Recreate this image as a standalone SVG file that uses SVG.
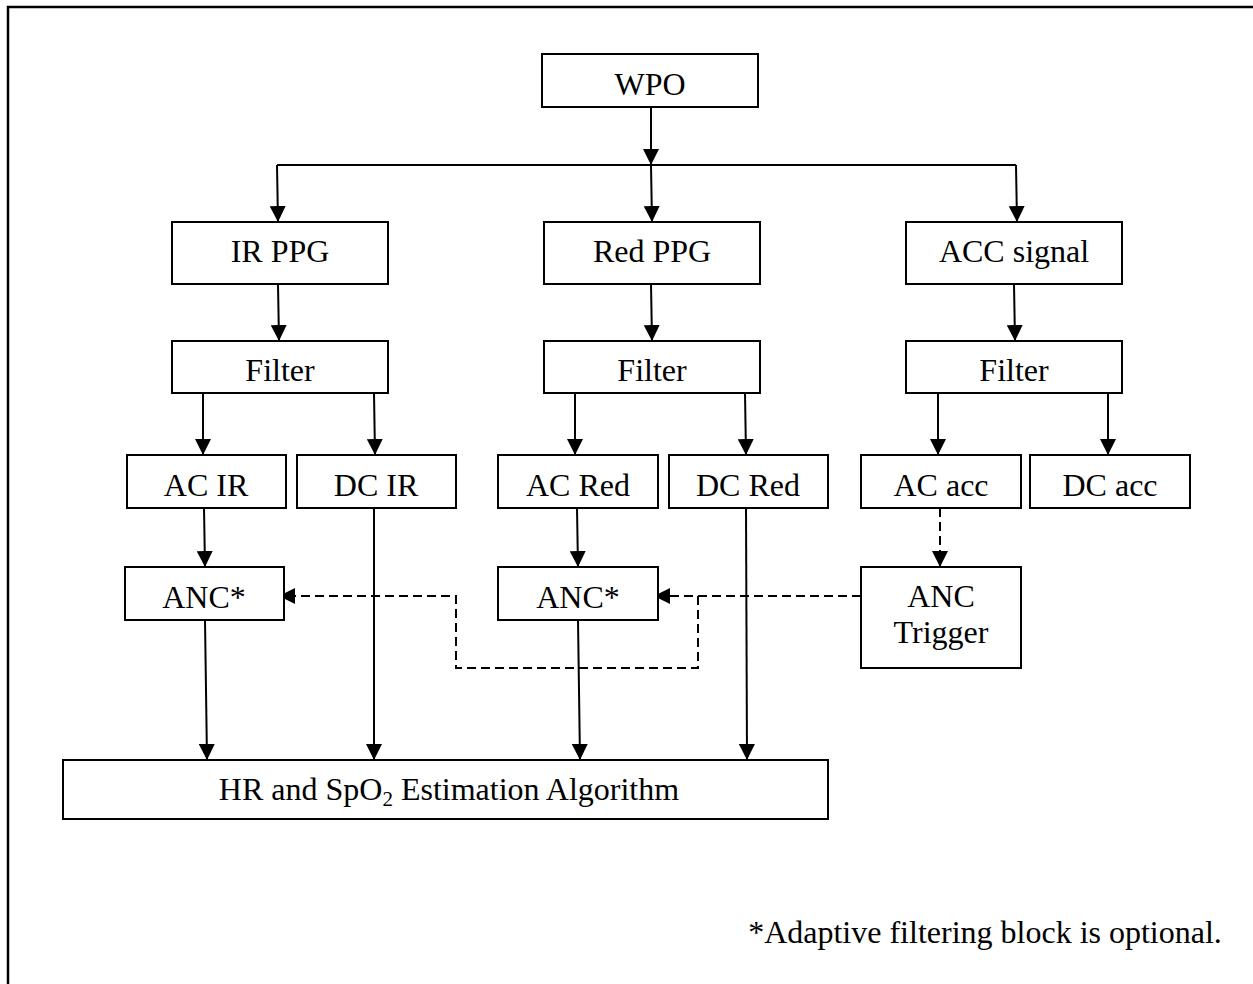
<svg xmlns="http://www.w3.org/2000/svg" width="1253" height="984" viewBox="0 0 1253 984">
  <defs>
    <marker id="arrow" markerUnits="userSpaceOnUse" markerWidth="16" markerHeight="16" refX="16" refY="8" orient="auto">
      <path d="M0,0 L16,8 L0,16 z" fill="#000"/>
    </marker>
    <style>
      .box { fill: #fff; stroke: #000; stroke-width: 2; }
      .lbl { font-family: "Liberation Serif", "Times New Roman", serif; font-size: 32px; fill: #000; text-anchor: middle; }
      .wire { fill: none; stroke: #000; stroke-width: 2; }
      .dash { fill: none; stroke: #000; stroke-width: 2; stroke-dasharray: 9 5; }
    </style>
  </defs>

  <rect width="1253" height="984" fill="#fff"/>
  <!-- page frame -->
  <path d="M8,984 V7 H1253" fill="none" stroke="#000" stroke-width="2.5"/>

  <g id="connectors">
    <!-- WPO fan-out -->
    <line class="wire" x1="651" y1="107" x2="651" y2="165" marker-end="url(#arrow)"/>
    <polyline class="wire" points="277,165 1016,165"/>
    <polyline class="wire" points="277,165 278,222" marker-end="url(#arrow)"/>
    <line class="wire" x1="651" y1="165" x2="652" y2="222" marker-end="url(#arrow)"/>
    <polyline class="wire" points="1016,165 1017,222" marker-end="url(#arrow)"/>

    <!-- source to filter -->
    <line class="wire" x1="278" y1="284" x2="279" y2="341" marker-end="url(#arrow)"/>
    <line class="wire" x1="651" y1="284" x2="652" y2="341" marker-end="url(#arrow)"/>
    <line class="wire" x1="1014" y1="284" x2="1015" y2="341" marker-end="url(#arrow)"/>

    <!-- filter to AC / DC -->
    <line class="wire" x1="203" y1="393" x2="203" y2="455" marker-end="url(#arrow)"/>
    <line class="wire" x1="374" y1="393" x2="375" y2="455" marker-end="url(#arrow)"/>
    <line class="wire" x1="575" y1="393" x2="575" y2="455" marker-end="url(#arrow)"/>
    <line class="wire" x1="745" y1="393" x2="746" y2="455" marker-end="url(#arrow)"/>
    <line class="wire" x1="938" y1="393" x2="938" y2="455" marker-end="url(#arrow)"/>
    <line class="wire" x1="1108" y1="393" x2="1108" y2="455" marker-end="url(#arrow)"/>

    <!-- AC to ANC -->
    <line class="wire" x1="204" y1="508" x2="205" y2="567" marker-end="url(#arrow)"/>
    <line class="wire" x1="577" y1="508" x2="578" y2="567" marker-end="url(#arrow)"/>
    <line class="dash" x1="940" y1="508" x2="940" y2="567" marker-end="url(#arrow)"/>

    <!-- into the estimation block -->
    <line class="wire" x1="205" y1="620" x2="207" y2="760" marker-end="url(#arrow)"/>
    <line class="wire" x1="374" y1="508" x2="374" y2="760" marker-end="url(#arrow)"/>
    <line class="wire" x1="578" y1="620" x2="580" y2="760" marker-end="url(#arrow)"/>
    <line class="wire" x1="746" y1="508" x2="747" y2="760" marker-end="url(#arrow)"/>

    <!-- ANC trigger lines -->
    <line class="dash" x1="861" y1="596" x2="654" y2="596" marker-end="url(#arrow)"/>
    <polyline class="dash" points="698,596 698,668 456,668 456,596 279,596" marker-end="url(#arrow)"/>
  </g>

  <g id="wpo"><rect class="box" x="542" y="54" width="216" height="53"/><text class="lbl" x="650" y="95">WPO</text></g>

  <g id="ir-ppg"><rect class="box" x="172" y="222" width="216" height="62"/><text class="lbl" x="280" y="262">IR PPG</text></g>
  <g id="red-ppg"><rect class="box" x="544" y="222" width="216" height="62"/><text class="lbl" x="652" y="262">Red PPG</text></g>
  <g id="acc-signal"><rect class="box" x="906" y="222" width="216" height="62"/><text class="lbl" x="1014" y="262">ACC signal</text></g>

  <g id="filter-ir"><rect class="box" x="172" y="341" width="216" height="52"/><text class="lbl" x="280" y="381">Filter</text></g>
  <g id="filter-red"><rect class="box" x="544" y="341" width="216" height="52"/><text class="lbl" x="652" y="381">Filter</text></g>
  <g id="filter-acc"><rect class="box" x="906" y="341" width="216" height="52"/><text class="lbl" x="1014" y="381">Filter</text></g>

  <g id="ac-ir"><rect class="box" x="127" y="455" width="159" height="53"/><text class="lbl" x="206" y="496">AC IR</text></g>
  <g id="dc-ir"><rect class="box" x="297" y="455" width="159" height="53"/><text class="lbl" x="376" y="496">DC IR</text></g>
  <g id="ac-red"><rect class="box" x="498" y="455" width="160" height="53"/><text class="lbl" x="578" y="496">AC Red</text></g>
  <g id="dc-red"><rect class="box" x="669" y="455" width="159" height="53"/><text class="lbl" x="748" y="496">DC Red</text></g>
  <g id="ac-acc"><rect class="box" x="861" y="455" width="160" height="53"/><text class="lbl" x="941" y="496">AC acc</text></g>
  <g id="dc-acc"><rect class="box" x="1030" y="455" width="160" height="53"/><text class="lbl" x="1110" y="496">DC acc</text></g>

  <g id="anc-ir"><rect class="box" x="125" y="567" width="159" height="53"/><text class="lbl" x="204" y="608">ANC*</text></g>
  <g id="anc-red"><rect class="box" x="498" y="567" width="160" height="53"/><text class="lbl" x="578" y="608">ANC*</text></g>
  <g id="anc-trigger"><rect class="box" x="861" y="567" width="160" height="101"/><text class="lbl" x="941" y="607">ANC</text><text class="lbl" x="941" y="643">Trigger</text></g>

  <g id="estimation"><rect class="box" x="63" y="760" width="765" height="59"/><text class="lbl" x="449" y="800">HR and SpO<tspan font-size="21" dy="6">2</tspan><tspan dy="-6"> Estimation Algorithm</tspan></text></g>

  <text class="lbl" x="985" y="943">*Adaptive filtering block is optional.</text>
</svg>
